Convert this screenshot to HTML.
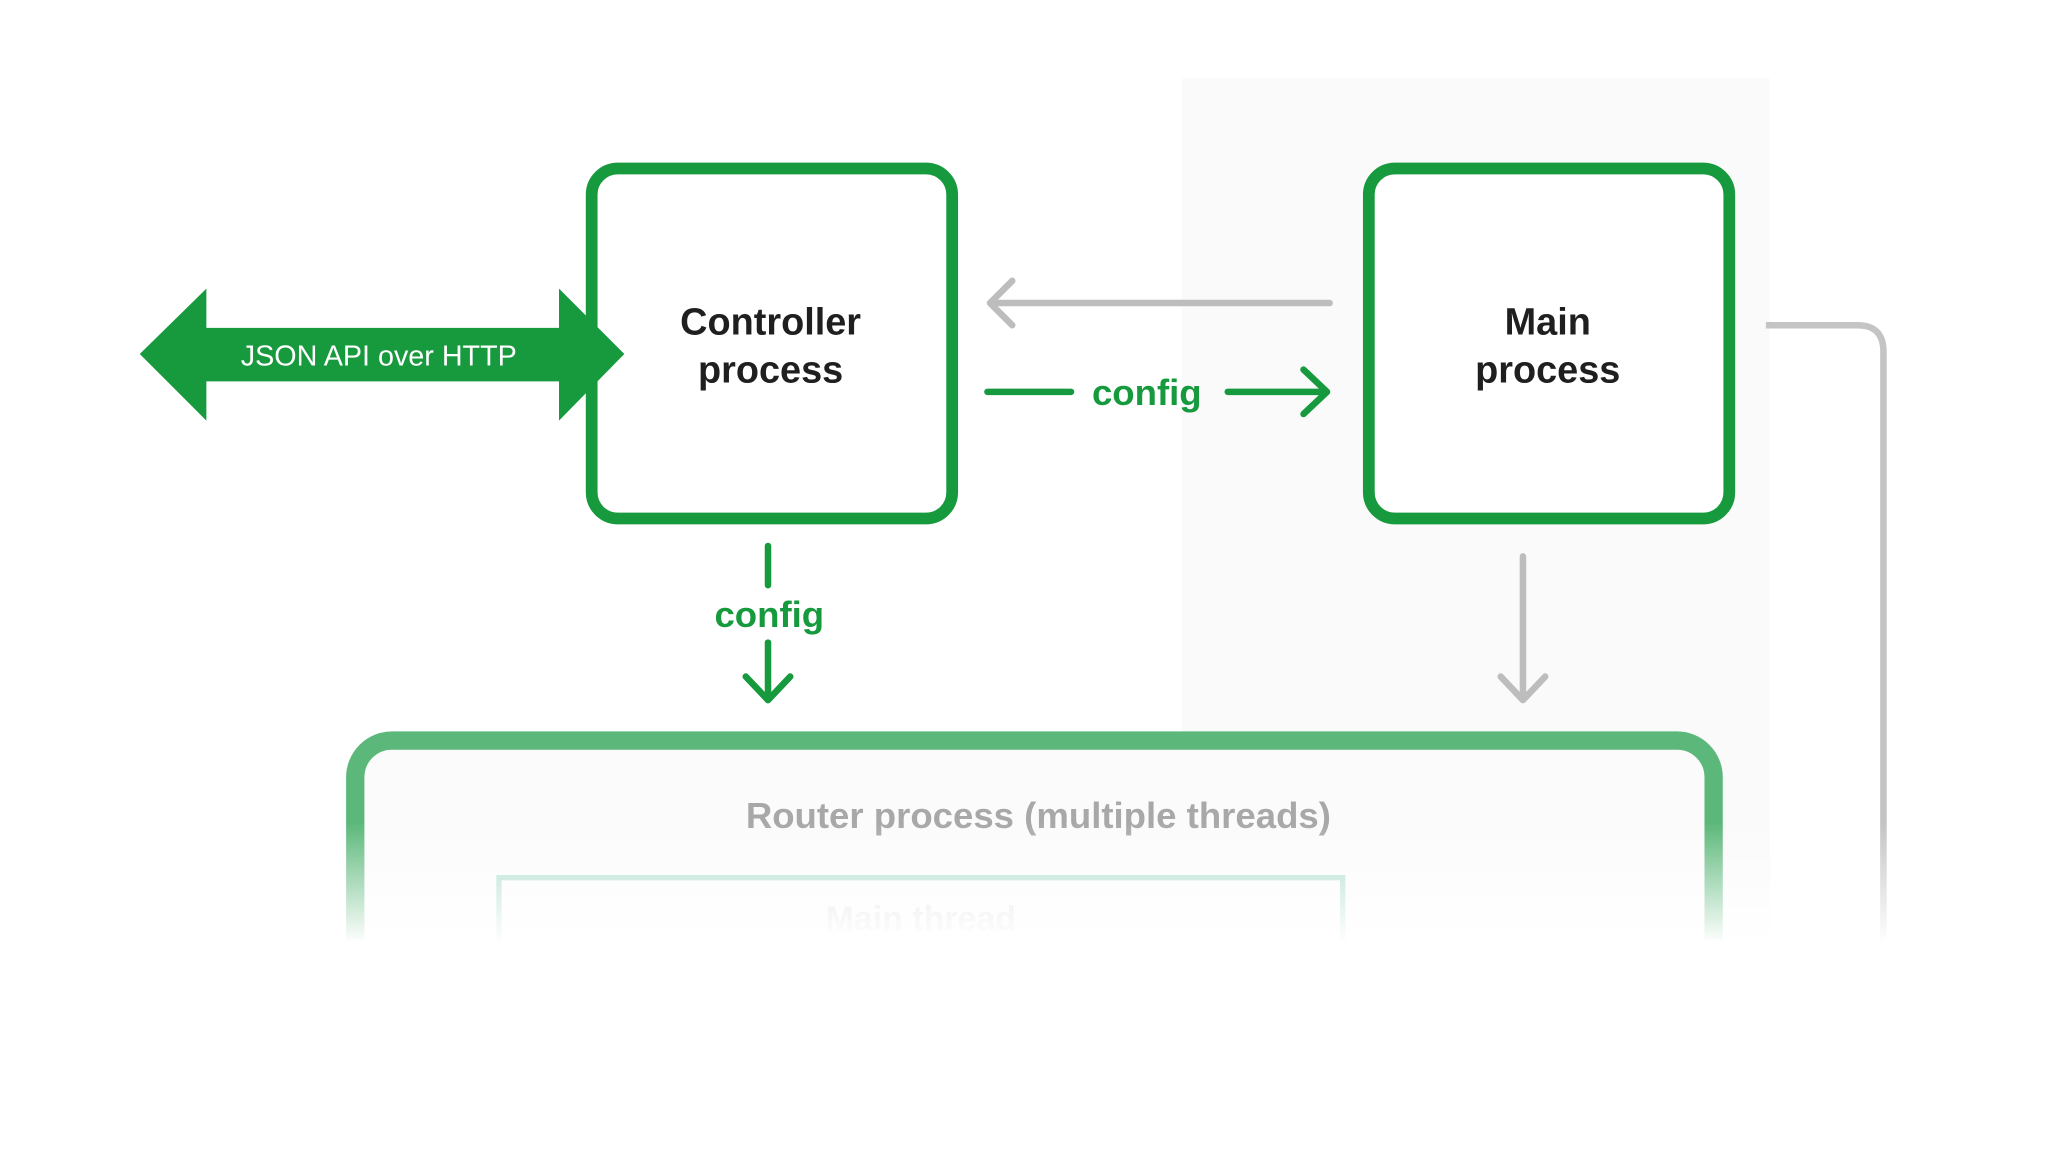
<!DOCTYPE html>
<html><head><meta charset="utf-8"><style>
html,body{margin:0;padding:0;background:#fff;width:2048px;height:1152px;overflow:hidden}
svg{display:block}
text{font-family:"Liberation Sans",sans-serif}
</style></head><body>
<svg width="2048" height="1152" viewBox="0 0 1568 882" preserveAspectRatio="none">
<defs>
<linearGradient id="fade" x1="0" y1="0" x2="0" y2="1">
<stop offset="0" stop-color="#fff" stop-opacity="0"/>
<stop offset="1" stop-color="#fff" stop-opacity="1"/>
</linearGradient>
</defs>
<rect width="1568" height="882" fill="#fff"/>
<rect x="905" y="60" width="450" height="660" fill="#fafafa"/>
<!-- Router box -->
<rect x="272" y="567" width="1040" height="260" rx="28" fill="#fbfbfb" stroke="#5cb87a" stroke-width="14"/>
<text x="795" y="634" text-anchor="middle" font-size="28" font-weight="bold" fill="#a8a8a8">Router process (multiple threads)</text>
<rect x="382" y="672" width="646" height="120" fill="none" stroke="#a9dccb" stroke-width="4"/>
<text x="705" y="712" text-anchor="middle" font-size="26" font-weight="bold" fill="#ddd">Main thread</text>
<!-- gray right path -->
<path d="M1352 249 H1422 Q1442 249 1442 269 V720" fill="none" stroke="#c4c4c4" stroke-width="5"/>
<rect x="0" y="630" width="1568" height="92" fill="url(#fade)"/>
<rect x="0" y="720" width="1568" height="162" fill="#fff"/>
<!-- boxes -->
<rect x="453" y="129" width="276" height="268" rx="20" fill="#fff" stroke="#17993d" stroke-width="9"/>
<rect x="1048" y="129" width="276" height="268" rx="20" fill="#fff" stroke="#17993d" stroke-width="9"/>
<text x="590" y="256" text-anchor="middle" font-size="29" font-weight="bold" fill="#1f1f1f">Controller</text>
<text x="590" y="293" text-anchor="middle" font-size="29" font-weight="bold" fill="#1f1f1f">process</text>
<text x="1185" y="256" text-anchor="middle" font-size="29" font-weight="bold" fill="#1f1f1f">Main</text>
<text x="1185" y="293" text-anchor="middle" font-size="29" font-weight="bold" fill="#1f1f1f">process</text>
<!-- double arrow -->
<polygon points="107,271 158,221 158,251 428,251 428,221 478,271 428,322 428,292 158,292 158,322" fill="#17993d"/>
<text x="290" y="280" text-anchor="middle" font-size="22" fill="#fff">JSON API over HTTP</text>
<!-- gray left arrow -->
<path d="M1018 232 H760 M775 215 L758 232 L775 249" fill="none" stroke="#bdbdbd" stroke-width="5" stroke-linecap="round" stroke-linejoin="round"/>
<!-- config right -->
<path d="M756 300 H820 M940 300 H1015 M998 283 L1016 300 L998 317" fill="none" stroke="#17993d" stroke-width="5" stroke-linecap="round" stroke-linejoin="round"/>
<text x="878" y="310" text-anchor="middle" font-size="28" font-weight="bold" fill="#17993d">config</text>
<!-- config down -->
<path d="M588 418 V448 M588 492 V535 M571 518 L588 536 L605 518" fill="none" stroke="#17993d" stroke-width="5" stroke-linecap="round" stroke-linejoin="round"/>
<text x="589" y="480" text-anchor="middle" font-size="28" font-weight="bold" fill="#17993d">config</text>
<!-- gray down -->
<path d="M1166 426 V535 M1149 518 L1166 536 L1183 518" fill="none" stroke="#bdbdbd" stroke-width="5" stroke-linecap="round" stroke-linejoin="round"/>
</svg>
</body></html>
